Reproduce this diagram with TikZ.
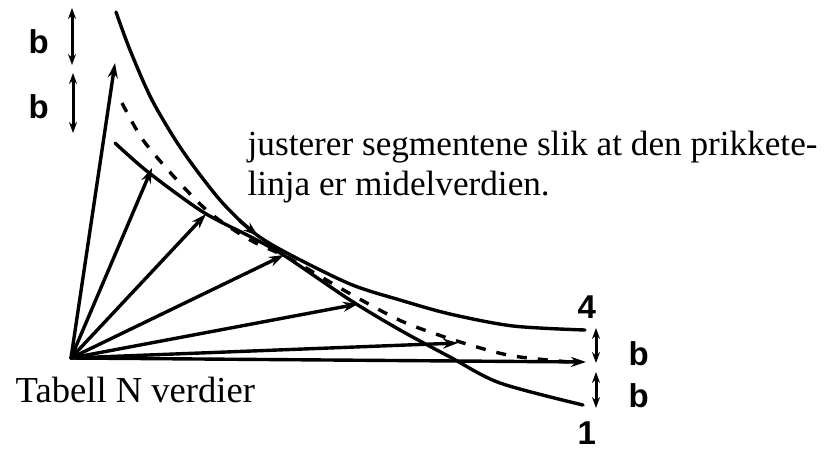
\documentclass[tikz,border=0pt]{standalone}
\usepackage{fontspec}
\setmainfont{Liberation Serif}
\newfontfamily\lblfont{Liberation Sans}
\usetikzlibrary{arrows.meta}
\begin{document}
\begin{tikzpicture}[x=1pt,y=-1pt, line width=3.4pt, line cap=round, line join=round,
  tip/.style={-{Stealth[length=15pt,width=10pt]}},
  dbl/.style={{Stealth[length=11pt,width=8pt]}-{Stealth[length=11pt,width=8pt]}, line width=3pt},
  mean/.style={dash pattern=on 10pt off 11pt, line cap=butt},
  txt/.style={font=\fontsize{35.2}{40}\selectfont, anchor=base west, inner sep=0pt},
  lbl/.style={font=\lblfont\bfseries\fontsize{33}{33}\selectfont, anchor=base west, inner sep=0pt}]
\useasboundingbox (0,0) rectangle (835,451);

% curves
\draw plot[smooth, tension=0.5] coordinates {(116,12) (130,50) (152,100) (182,150) (220,200) (253,232) (285,252) (350,284) (400,300) (450,314) (513,326) (585,330)};
\draw plot[smooth, tension=0.5] coordinates {(115,143) (148,172) (203,212) (253,238) (285,256) (350,300) (400,330) (450,357) (500,383) (583,405)};
\draw[mean] plot[smooth, tension=0.5] coordinates {(122,103) (143,140) (177,180) (210,213) (250,240) (285,256) (313,272) (347,292) (397,319) (430,332) (470,345) (513,356) (570,362)};

% fan of arrows
\coordinate (O) at (71,358);
\coordinate (t1) at (115,63);
\coordinate (t2) at (152,168);
\coordinate (t3) at (206,214);
\coordinate (t4) at (284,255);
\coordinate (t5) at (358,304);
\coordinate (t6) at (458,343);
\coordinate (t7) at (586,362);
\foreach \t in {t1,t2,t3,t4,t5,t6,t7} \draw[tip] (O) -- (\t);

% arrowhead on upper curve
\coordinate (c1a) at (240,221);
\coordinate (c1b) at (258,236);
\draw[tip] (c1a) -- (c1b);

% double arrows
\coordinate (la1) at (72,8);   \coordinate (la2) at (72,65);
\coordinate (lb1) at (73,73);  \coordinate (lb2) at (73,133);
\coordinate (ra1) at (596,328); \coordinate (ra2) at (596,363);
\coordinate (rb1) at (596,372); \coordinate (rb2) at (596,408);
\draw[dbl] (la1) -- (la2);
\draw[dbl] (lb1) -- (lb2);
\draw[dbl] (ra1) -- (ra2);
\draw[dbl] (rb1) -- (rb2);

% labels
\node[lbl] (b1) at (27,53) {b};
\node[lbl] (b2) at (27,118) {b};
\node[lbl] (b3) at (627,365) {b};
\node[lbl] (b4) at (627,407) {b};
\node[lbl] (n4) at (576,318) {4};
\node[lbl] (n1) at (576,444) {1};

\node[txt] (l1) at (246,155) {justerer segmentene slik at den prikkete-};
\node[txt] (l2) at (246,195) {linja er midelverdien.};
\node[txt, font=\fontsize{36.6}{40}\selectfont] (tab) at (14,402) {Tabell N verdier};
\end{tikzpicture}
\end{document}
